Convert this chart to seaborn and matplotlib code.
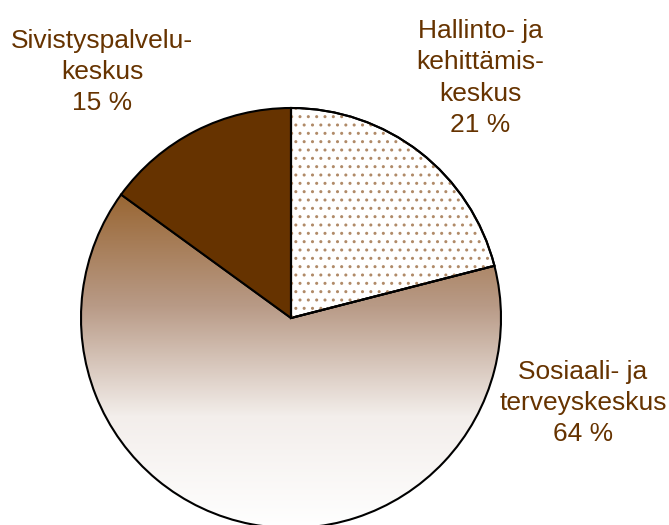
import numpy as np
import matplotlib
matplotlib.use("Agg")
import matplotlib.pyplot as plt
import seaborn as sns
from matplotlib.colors import LinearSegmentedColormap
from matplotlib.patches import Wedge

sns.set_theme(style="white")
plt.rcParams['font.family'] = ['Liberation Sans', 'DejaVu Sans']
plt.rcParams['hatch.linewidth'] = 1.0

categories = ["Hallinto- ja\nkehittämis-\nkeskus", "Sosiaali- ja\nterveyskeskus", "Sivistyspalvelu-\nkeskus"]
values = [21, 64, 15]
text_color = "#663300"

W, H = 669, 525
fig = plt.figure(figsize=(W / 100, H / 100), dpi=100)
ax = fig.add_axes([0, 0, 1, 1])
ax.axis('off')

cx, cy, r = 291, H - 318, 210
wedges, _ = ax.pie(values, startangle=90, counterclock=False, center=(cx, cy), radius=r,
                   colors=["white", "none", text_color],
                   wedgeprops=dict(edgecolor="black", linewidth=1.5))
ax.set_xlim(0, W)
ax.set_ylim(0, H)
ax.set_aspect('equal')

# dotted pattern for first wedge
w0 = wedges[0]
hw = Wedge(w0.center, w0.r, w0.theta1, w0.theta2, facecolor="none",
           edgecolor="#b08a68", linewidth=0, hatch='..', zorder=w0.get_zorder() + 0.05)
ax.add_patch(hw)
outline = Wedge(w0.center, w0.r, w0.theta1, w0.theta2, facecolor="none",
                edgecolor="black", linewidth=1.5, zorder=w0.get_zorder() + 0.1)
ax.add_patch(outline)

# gradient fill for second wedge
grad_cmap = LinearSegmentedColormap.from_list("g", ["#ffffff", "#f3eeeb", "#b89a86", "#996633"])
g = np.linspace(0, 1, 256).reshape(-1, 1)
top = cy + r * np.sin(np.deg2rad(144))
im = ax.imshow(g, cmap=grad_cmap, aspect='auto', origin='lower',
               extent=[cx - r, cx + r, cy - r, top], zorder=wedges[1].get_zorder() - 0.1)
im.set_clip_path(wedges[1])
ax.set_xlim(0, W)
ax.set_ylim(0, H)

label_pos = [(480, H - 78), (583, H - 403), (102, H - 72)]
for lab, v, (x, y) in zip(categories, values, label_pos):
    ax.text(x, y, f"{lab}\n{v} %", ha='center', va='center', fontsize=19,
            color=text_color, linespacing=1.37)

fig.savefig("out.png", dpi=100)
